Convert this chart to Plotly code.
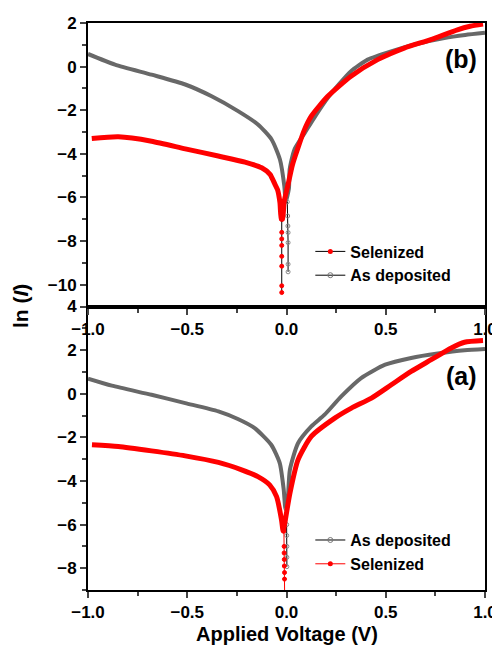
import plotly.graph_objects as go

# ---------------- data: panel (b) (top) ----------------
b_dep_left_x = [-1.0, -0.864, -0.68, -0.51, -0.377, -0.244, -0.144, -0.075, -0.033, -0.011, -0.004]
b_dep_left_y = [0.58, 0.09, -0.37, -0.82, -1.36, -2.04, -2.65, -3.34, -4.26, -5.48, -6.2]
b_dep_right_x = [0.012, 0.016, 0.04, 0.092, 0.15, 0.208, 0.265, 0.325, 0.409, 0.527, 0.661, 0.795, 0.9, 1.0]
b_dep_right_y = [-5.6, -4.71, -3.8, -3.04, -2.2, -1.43, -0.8, -0.21, 0.32, 0.70, 1.05, 1.31, 1.45, 1.55]
b_dep_dip_x = [0.004, 0.006, 0.007, 0.008, 0.008, 0.008, 0.008]
b_dep_dip_y = [-6.2, -6.85, -7.31, -7.61, -8.07, -9.06, -9.41]

b_sel_left_x = [-0.981, -0.847, -0.68, -0.51, -0.344, -0.209, -0.125, -0.083, -0.058, -0.045, -0.033, -0.026]
b_sel_left_y = [-3.30, -3.22, -3.42, -3.77, -4.10, -4.38, -4.64, -4.94, -5.40, -5.65, -6.24, -7.0]
b_sel_right_x = [-0.02, -0.012, 0.008, 0.03, 0.055, 0.09, 0.125, 0.208, 0.325, 0.459, 0.593, 0.727, 0.861, 0.925, 0.99]
b_sel_right_y = [-7.0, -6.2, -5.4, -4.5, -3.8, -2.9, -2.27, -1.36, -0.44, 0.32, 0.85, 1.24, 1.69, 1.85, 1.95]
b_sel_dip_x = [-0.024, -0.024, -0.024, -0.024, -0.024, -0.024, -0.024, -0.024]
b_sel_dip_y = [-7.0, -7.6, -7.9, -8.2, -8.7, -9.15, -10.05, -10.36]

# ---------------- data: panel (a) (bottom) ----------------
a_dep_left_x = [-1.0, -0.88, -0.68, -0.51, -0.343, -0.245, -0.16, -0.077, -0.034, -0.014, -0.005]
a_dep_left_y = [0.69, 0.37, -0.05, -0.43, -0.81, -1.16, -1.58, -2.34, -3.18, -4.40, -5.3]
a_dep_right_x = [0.005, 0.017, 0.058, 0.125, 0.192, 0.276, 0.376, 0.497, 0.628, 0.762, 0.897, 1.0]
a_dep_right_y = [-5.0, -3.49, -2.27, -1.50, -0.96, -0.12, 0.72, 1.33, 1.64, 1.84, 1.99, 2.05]
a_dep_dip_x = [0.0, 0.001, 0.001, 0.002, 0.002, 0.002]
a_dep_dip_y = [-5.3, -6.0, -6.5, -7.0, -7.5, -7.93]

a_sel_left_x = [-0.98, -0.847, -0.68, -0.51, -0.343, -0.226, -0.144, -0.085, -0.05, -0.025, -0.017]
a_sel_left_y = [-2.34, -2.42, -2.62, -2.85, -3.15, -3.49, -3.80, -4.18, -4.72, -5.79, -6.3]
a_sel_right_x = [-0.01, 0.017, 0.058, 0.125, 0.243, 0.327, 0.428, 0.528, 0.628, 0.729, 0.83, 0.897, 0.99]
a_sel_right_y = [-6.0, -4.57, -3.03, -1.96, -1.12, -0.66, -0.20, 0.41, 1.02, 1.56, 2.10, 2.36, 2.44]
a_sel_dip_x = [-0.013, -0.012, -0.012, -0.011, -0.011, -0.010, -0.010, -0.009]
a_sel_dip_y = [-6.3, -7.0, -7.3, -7.6, -7.9, -8.2, -8.5, -9.5]

legend_labels = ["Selenized", "As deposited"]
x_ticks = [-1.0, -0.5, 0.0, 0.5, 1.0]

RED = "#ff0000"
GRAY = "#686868"
FONT = "Liberation Sans, Arial, sans-serif"

fig = go.Figure()

def curve(lx, ly, rx, ry, color, width, xa, ya):
    fig.add_trace(go.Scatter(x=lx + rx, y=ly + ry, mode="lines",
                             line=dict(color=color, width=width, shape="spline", smoothing=0.6),
                             showlegend=False, hoverinfo="skip", xaxis=xa, yaxis=ya))

def dip(dx, dy, lcolor, mcolor, symbol, xa, ya):
    fig.add_trace(go.Scatter(x=dx, y=dy, mode="lines+markers",
                             line=dict(color=lcolor, width=1),
                             marker=dict(color=mcolor, size=4, symbol=symbol,
                                         line=dict(color=mcolor, width=1)),
                             showlegend=False, hoverinfo="skip", xaxis=xa, yaxis=ya))

# top panel (b)
curve(b_dep_left_x, b_dep_left_y, b_dep_right_x, b_dep_right_y, GRAY, 4, "x2", "y2")
dip(b_dep_dip_x, b_dep_dip_y, "black", "#888888", "circle-open", "x2", "y2")
curve(b_sel_left_x, b_sel_left_y, b_sel_right_x, b_sel_right_y, RED, 5, "x2", "y2")
dip(b_sel_dip_x, b_sel_dip_y, "black", RED, "circle", "x2", "y2")

# bottom panel (a)
curve(a_dep_left_x, a_dep_left_y, a_dep_right_x, a_dep_right_y, GRAY, 4, "x", "y")
dip(a_dep_dip_x, a_dep_dip_y, "black", "#888888", "circle-open", "x", "y")
curve(a_sel_left_x, a_sel_left_y, a_sel_right_x, a_sel_right_y, RED, 5, "x", "y")
dip(a_sel_dip_x, a_sel_dip_y, RED, RED, "circle", "x", "y")

# legend entries
fig.add_trace(go.Scatter(x=[None], y=[None], mode="lines+markers", name=legend_labels[0],
                         line=dict(color="black", width=1), marker=dict(color=RED, size=5),
                         legend="legend", xaxis="x2", yaxis="y2"))
fig.add_trace(go.Scatter(x=[None], y=[None], mode="lines+markers", name=legend_labels[1],
                         line=dict(color="black", width=1),
                         marker=dict(color="#777777", size=5, symbol="circle-open"),
                         legend="legend", xaxis="x2", yaxis="y2"))
fig.add_trace(go.Scatter(x=[None], y=[None], mode="lines+markers", name=legend_labels[1],
                         line=dict(color="black", width=1),
                         marker=dict(color="#777777", size=5, symbol="circle-open"),
                         legend="legend2", xaxis="x", yaxis="y"))
fig.add_trace(go.Scatter(x=[None], y=[None], mode="lines+markers", name=legend_labels[0],
                         line=dict(color=RED, width=1), marker=dict(color=RED, size=5),
                         legend="legend2", xaxis="x", yaxis="y"))

tickfont = dict(family=FONT, size=17, color="black", weight=700)
common_x = dict(range=[-1, 1], tickvals=x_ticks, tickformat=".1f", ticks="outside",
                ticklen=6, tickwidth=2, showline=True, linewidth=2, linecolor="black",
                mirror=True, showgrid=False, zeroline=False, tickfont=tickfont,
                automargin=False,
                minor=dict(dtick=0.25, ticks="outside", ticklen=4, tickwidth=2, tick0=0))
common_y = dict(dtick=2, ticks="outside", ticklen=6, tickwidth=2, showline=True,
                linewidth=2, linecolor="black", mirror=True, showgrid=False,
                zeroline=False, tickfont=tickfont, automargin=False,
                minor=dict(dtick=1, ticks="outside", ticklen=4, tickwidth=2))

legend_common = dict(xanchor="left", yanchor="top", bgcolor="rgba(0,0,0,0)",
                     font=dict(family=FONT, size=16, color="black", weight=700),
                     itemwidth=30, tracegroupgap=0)

# the page body has an 8px margin, so the plot box is offset accordingly
fig.update_layout(
    width=500, height=653,
    margin=dict(l=80, r=23, t=15, b=71, autoexpand=False),
    paper_bgcolor="white", plot_bgcolor="white",
    xaxis=dict(common_x, anchor="y", domain=[0, 1]),
    yaxis=dict(common_y, range=[-9, 4], domain=[0, 0.5], anchor="x", tick0=0),
    xaxis2=dict(common_x, anchor="y2", domain=[0, 1]),
    yaxis2=dict(common_y, range=[-11, 2], domain=[0.5, 1], anchor="x2", tick0=0),
    legend=dict(legend_common, x=0.56, y=0.627),
    legend2=dict(legend_common, x=0.56, y=0.118),
    annotations=[
        dict(text="<b>(b)</b>", x=0.985, y=0.937, xref="paper", yref="paper", xanchor="right",
             yanchor="middle", showarrow=False,
             font=dict(family=FONT, size=25, color="black")),
        dict(text="<b>(a)</b>", x=0.985, y=0.378, xref="paper", yref="paper", xanchor="right",
             yanchor="middle", showarrow=False,
             font=dict(family=FONT, size=25, color="black")),
        dict(text="<b>Applied Voltage (V)</b>", x=0.5, y=-0.078, xref="paper", yref="paper",
             xanchor="center", yanchor="middle", showarrow=False,
             font=dict(family=FONT, size=20, color="black")),
        dict(text="<b>ln (<i>I</i>)</b>", x=-0.17, y=0.5, xref="paper", yref="paper",
             xanchor="center", yanchor="middle", showarrow=False, textangle=-90,
             font=dict(family=FONT, size=21, color="black")),
    ],
)

fig.write_html("out.html")
